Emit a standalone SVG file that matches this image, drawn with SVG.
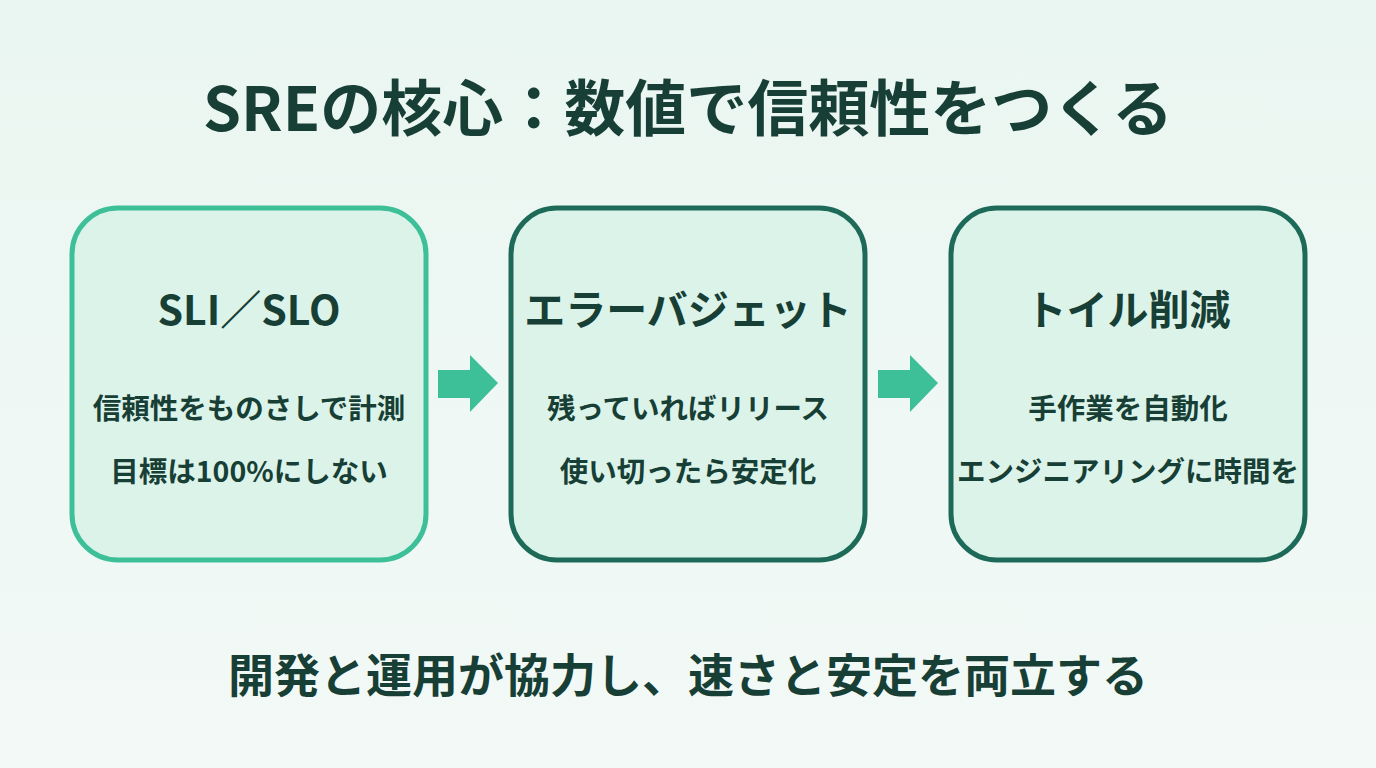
<svg xmlns="http://www.w3.org/2000/svg" width="1376" height="768" viewBox="0 0 1376 768">
<defs>
<linearGradient id="bg" x1="0" y1="0" x2="0" y2="1"><stop offset="0" stop-color="#eaf6f1"/><stop offset="1" stop-color="#f2f9f6"/></linearGradient>
<style>
.t{font-family:"Noto Sans CJK JP","Noto Sans",sans-serif;font-weight:700;fill:#173f35;text-anchor:middle}
.box{fill:#dcf3ea;stroke-width:5}
.arr{fill:#3dbf98}
</style>
</defs>
<rect width="1376" height="768" fill="url(#bg)"/>
<text class="t" x="688" y="131" font-size="61">SREの核心：数値で信頼性をつくる</text>
<g id="node1"><rect class="box" x="72" y="208" width="354" height="352" rx="46" stroke="#3dbf98"/>
<text class="t" x="249" y="325" font-size="41">SLI／SLO</text>
<text class="t" x="249" y="419" font-size="28.5">信頼性をものさしで計測</text>
<text class="t" x="249" y="482" font-size="28.5">目標は100%にしない</text></g>
<g id="node2"><rect class="box" x="511" y="208" width="354" height="352" rx="46" stroke="#1e6a58"/>
<text class="t" x="688" y="325" font-size="41">エラーバジェット</text>
<text class="t" x="688" y="419" font-size="28.5">残っていればリリース</text>
<text class="t" x="688" y="482" font-size="28.5">使い切ったら安定化</text></g>
<g id="node3"><rect class="box" x="951" y="208" width="354" height="352" rx="46" stroke="#1e6a58"/>
<text class="t" x="1128" y="325" font-size="41">トイル削減</text>
<text class="t" x="1128" y="419" font-size="28.5">手作業を自動化</text>
<text class="t" x="1128" y="482" font-size="28.5">エンジニアリングに時間を</text></g>
<g id="connectors">
<polygon class="arr" points="438,370 470,370 470,355 498,383 470,412 470,398 438,398"/>
<polygon class="arr" points="878,370 910,370 910,355 938,383 910,412 910,398 878,398"/>
</g>
<text class="t" x="688" y="692" font-size="46">開発と運用が協力し、速さと安定を両立する</text>
</svg>
